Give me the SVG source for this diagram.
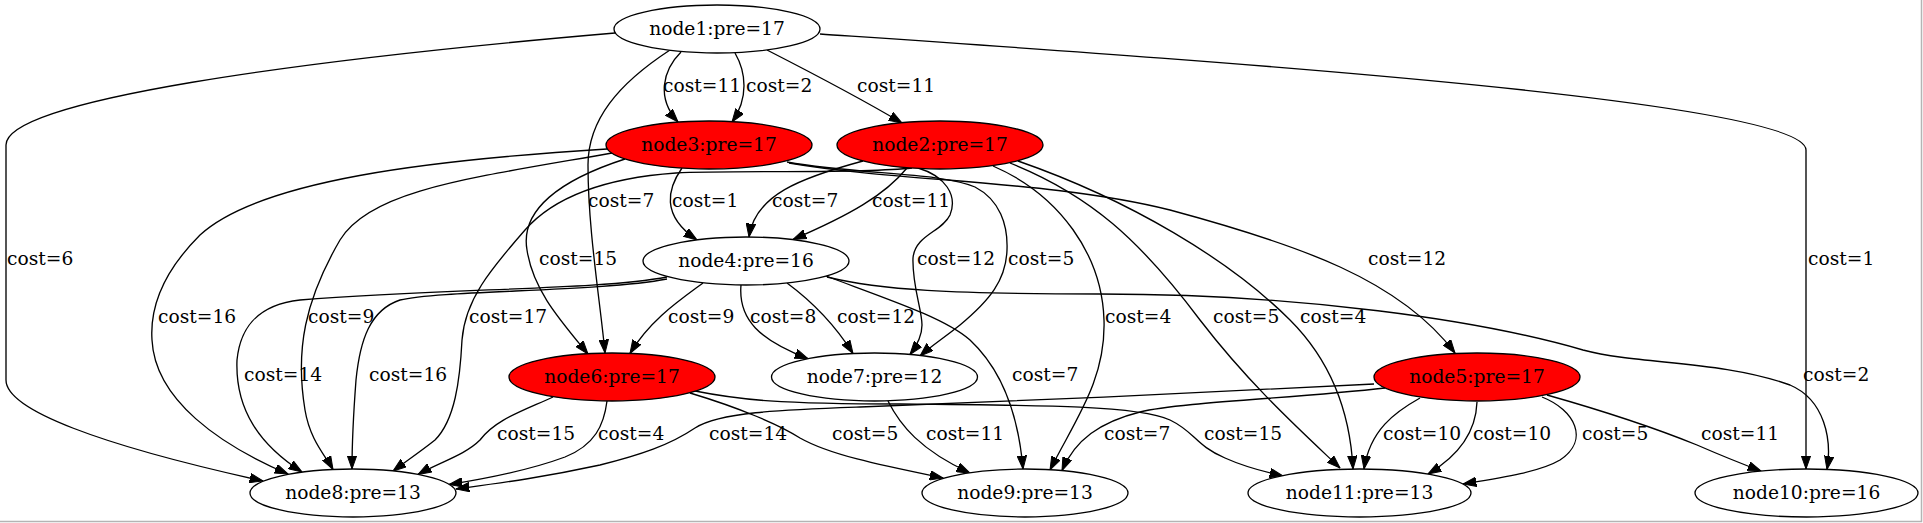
<svg xmlns="http://www.w3.org/2000/svg" width="1923" height="523" viewBox="0 0 1923 523">
<style>
.n ellipse{stroke:#000;stroke-width:1.33}
.w{fill:#fff}
.r{fill:#ff0000}
text{font-family:"DejaVu Serif","Liberation Serif",serif;font-size:18.67px;fill:#000}
.n text{text-anchor:middle}
#edges path{fill:none;stroke:#000;stroke-width:1.33;marker-end:url(#ah)}
</style>
<defs>
<marker id="ah" viewBox="0 0 14 10" refX="13.3" refY="5" markerWidth="14" markerHeight="10" markerUnits="userSpaceOnUse" orient="auto">
<path d="M0,0.3 L13.3,5 L0,9.7 z" fill="#000" stroke="#000" stroke-width="1"/>
</marker>
</defs>
<rect x="0" y="0" width="1923" height="523" fill="#fff"/>
<path d="M0,521.5 H1921.5 V0" fill="none" stroke="#b4b4b4" stroke-width="1.5"/>
<g id="edges">
<!-- node1 -->
<path d="M615,33 C300,60 6,100 6,145 L6,380 C6,410 100,445 263,481"/>
<path d="M681,52 C663,70 656,98 678,122"/>
<path d="M735,53 C746,72 749,98 732,122"/>
<path d="M767,50 C810,72 860,98 902,123"/>
<path d="M670,50 C618,84 588,120 588,165 C588,230 600,300 605,353"/>
<path d="M820,34 C1200,60 1806,100 1806,150 L1806,469"/>
<!-- node3 -->
<path d="M607,149 C430,160 260,180 200,235 C160,275 150,310 152,340 C155,400 220,445 288,474"/>
<path d="M612,153 C470,178 370,190 340,240 C305,300 295,350 305,410 C310,440 325,455 333,469.5"/>
<path d="M625,159 C560,180 520,210 527,250 C533,290 560,320 588,354"/>
<path d="M682,168 C668,188 660,215 697,240"/>
<path d="M787,162 C860,175 940,172 975,187 C1000,200 1008,225 1007,250 C1006,280 990,300 960,325 C945,337 930,347 920,356"/>
<path d="M789,163 C900,182 1050,180 1170,210 C1300,245 1400,280 1455,353"/>
<!-- node2 -->
<path d="M863,161 C800,178 755,195 749,237"/>
<path d="M907,168 C885,195 850,215 793,239.5"/>
<path d="M912,168 C860,174 730,170 676,173 C620,177 560,190 525,230 C490,270 465,300 462,340 C460,380 455,420 435,440 C420,452 405,462 393,471"/>
<path d="M918,168 C945,176 958,195 950,215 C942,232 915,235 913,258 C912,285 922,310 922,325 C922,338 915,348 910,354.5"/>
<path d="M993,166 C1060,195 1102,255 1104,320 C1106,380 1075,420 1050,470"/>
<path d="M1010,163 C1090,195 1140,240 1200,320 C1250,385 1300,430 1340,468"/>
<path d="M1018,161 C1130,200 1230,260 1290,320 C1330,360 1350,410 1353,469"/>
<!-- node4 -->
<path d="M667,277 C600,290 450,288 300,300 C255,305 240,330 237,360 C235,410 260,445 302,472"/>
<path d="M667,279 C600,292 440,290 400,300 C370,310 360,340 356,380 C353,420 352,450 352,469"/>
<path d="M703,283 C680,300 650,320 630,353.4"/>
<path d="M741,285 C738,320 760,340 808,358.7"/>
<path d="M787,283 C810,300 835,325 853,353.5"/>
<path d="M826,276 C890,300 945,318 970,340 C1000,368 1018,410 1023,469"/>
<path d="M827,277 C880,290 950,294 1100,294 C1300,294 1480,320 1583,350 C1640,365 1720,360 1790,385 C1825,400 1832,440 1827,469.4"/>
<!-- node6 -->
<path d="M553,397 C520,412 495,420 480,440 C465,455 440,462 418,474.4"/>
<path d="M607,401 C604,425 595,445 565,457 C530,470 490,478 449,484.5"/>
<path d="M690,393 C740,408 780,425 800,438 C830,455 880,465 943,478"/>
<path d="M695,391 C740,400 780,404 900,404 C1050,405 1140,406 1170,420 C1195,432 1195,445 1225,458 C1245,467 1265,472 1283,476"/>
<!-- node7 -->
<path d="M888,401 C900,425 920,450 970,473"/>
<!-- node5 -->
<path d="M1374,384 C1250,391 1000,402 860,407 C780,410 720,412 695,428 C670,445 640,455 600,465 C540,478 500,483 456,489"/>
<path d="M1385,388 C1300,398 1180,402 1140,412 C1100,422 1075,440 1062,470.5"/>
<path d="M1420,398 C1395,412 1370,430 1364,469"/>
<path d="M1477,402 C1476,430 1460,455 1428,474"/>
<path d="M1542,397 C1575,410 1590,440 1560,460 C1540,472 1500,478 1463,484"/>
<path d="M1547,395 C1600,410 1660,430 1697,445 C1720,455 1745,465 1761,471"/>
</g>
<g id="edge-labels">
<text x="663" y="92">cost=11</text>
<text x="746" y="92">cost=2</text>
<text x="857" y="92">cost=11</text>
<text x="588" y="207">cost=7</text>
<text x="672" y="207">cost=1</text>
<text x="772" y="207">cost=7</text>
<text x="872" y="207">cost=11</text>
<text x="7" y="265">cost=6</text>
<text x="539" y="265">cost=15</text>
<text x="917" y="265">cost=12</text>
<text x="1008" y="265">cost=5</text>
<text x="1368" y="265">cost=12</text>
<text x="1808" y="265">cost=1</text>
<text x="158" y="323">cost=16</text>
<text x="308" y="323">cost=9</text>
<text x="469" y="323">cost=17</text>
<text x="668" y="323">cost=9</text>
<text x="750" y="323">cost=8</text>
<text x="837" y="323">cost=12</text>
<text x="1105" y="323">cost=4</text>
<text x="1213" y="323">cost=5</text>
<text x="1300" y="323">cost=4</text>
<text x="244" y="381">cost=14</text>
<text x="369" y="381">cost=16</text>
<text x="1012" y="381">cost=7</text>
<text x="1803" y="381">cost=2</text>
<text x="497" y="440">cost=15</text>
<text x="598" y="440">cost=4</text>
<text x="709" y="440">cost=14</text>
<text x="832" y="440">cost=5</text>
<text x="926" y="440">cost=11</text>
<text x="1104" y="440">cost=7</text>
<text x="1204" y="440">cost=15</text>
<text x="1383" y="440">cost=10</text>
<text x="1473" y="440">cost=10</text>
<text x="1582" y="440">cost=5</text>
<text x="1701" y="440">cost=11</text>
</g>
<g id="node1" class="n"><ellipse class="w" cx="717" cy="29" rx="103" ry="24"/><text x="717" y="35">node1:pre=17</text></g>
<g id="node3" class="n"><ellipse class="r" cx="709" cy="145" rx="103" ry="24"/><text x="709" y="151">node3:pre=17</text></g>
<g id="node2" class="n"><ellipse class="r" cx="940" cy="145" rx="103" ry="24"/><text x="940" y="151">node2:pre=17</text></g>
<g id="node4" class="n"><ellipse class="w" cx="746" cy="261" rx="103" ry="24"/><text x="746" y="267">node4:pre=16</text></g>
<g id="node6" class="n"><ellipse class="r" cx="612" cy="377" rx="103" ry="24"/><text x="612" y="383">node6:pre=17</text></g>
<g id="node7" class="n"><ellipse class="w" cx="874.5" cy="377" rx="103" ry="24"/><text x="874.5" y="383">node7:pre=12</text></g>
<g id="node5" class="n"><ellipse class="r" cx="1477" cy="377" rx="103" ry="24"/><text x="1477" y="383">node5:pre=17</text></g>
<g id="node8" class="n"><ellipse class="w" cx="353" cy="493" rx="103" ry="24"/><text x="353" y="499">node8:pre=13</text></g>
<g id="node9" class="n"><ellipse class="w" cx="1025" cy="493" rx="103" ry="24"/><text x="1025" y="499">node9:pre=13</text></g>
<g id="node11" class="n"><ellipse class="w" cx="1359.5" cy="493" rx="111.5" ry="24"/><text x="1359.5" y="499">node11:pre=13</text></g>
<g id="node10" class="n"><ellipse class="w" cx="1806.5" cy="493" rx="111.5" ry="24"/><text x="1806.5" y="499">node10:pre=16</text></g>
</svg>
